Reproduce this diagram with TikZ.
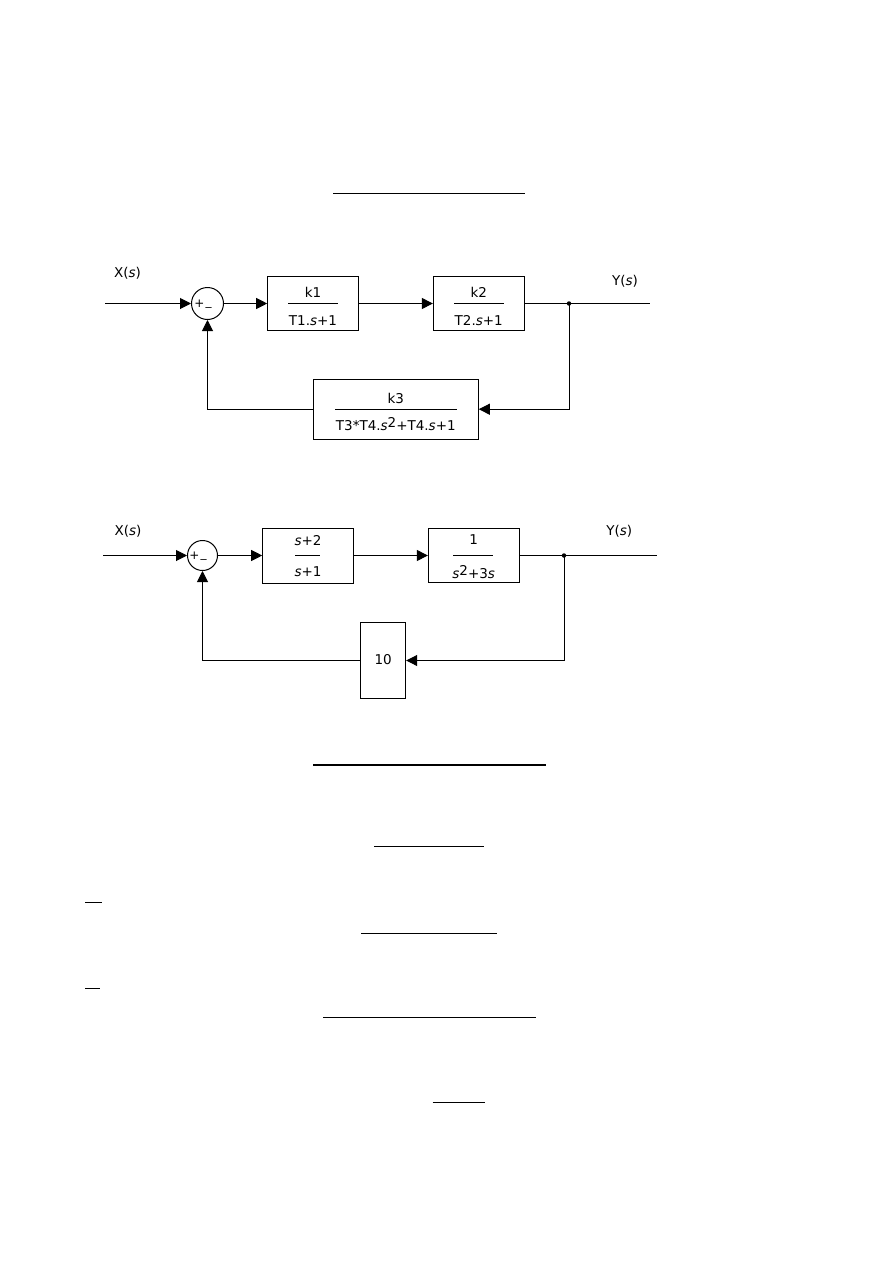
\documentclass[tikz,border=0pt]{standalone}
\usepackage{fontspec}
\setmainfont{DejaVu Sans}
\usetikzlibrary{arrows.meta}
\begin{document}
\begin{tikzpicture}[x=1pt,y=-1pt,
  wire/.style={line width=1pt},
  arr/.style={wire,-{Triangle[length=11pt,width=11pt]}},
  blk/.style={draw,line width=1pt,inner sep=0pt},
  sumc/.style={draw,circle,line width=1pt,inner sep=0pt},
  lbl/.style={inner sep=0pt,font=\fontsize{13.5}{14}\selectfont},
  sgn/.style={inner sep=0pt,font=\fontsize{12}{13}\selectfont},
  bar/.style={line width=1pt},
  uline/.style={line width=1.4pt},
  dot/.style={circle,fill,inner sep=0pt,minimum size=4.5pt}]
\useasboundingbox (0,0) rectangle (893,1263);

% ---------- underlines ----------
\draw[uline] (333,193.3) -- (525,193.3);
\draw[uline] (313.3,765) -- (546,765);
\draw[uline] (374.3,846.3) -- (484,846.3);
\draw[uline] (85,902.3) -- (102,902.3);
\draw[uline] (361,933.3) -- (496.7,933.3);
\draw[uline] (85,988.7) -- (100,988.7);
\draw[uline] (323.3,1017.7) -- (536,1017.7);
\draw[uline] (432.7,1102.7) -- (485.3,1102.7);

% ---------- diagram 1 ----------
\coordinate (in1) at (105,303.5);
\node[lbl] (x1) at (127.5,273) {X(\textit{s})};
\node[sumc,minimum size=32pt] (s1) at (207.5,303.5) {};
\node[sgn] (s1p) at (199.5,303.5) {+};
\node[sgn] (s1m) at (208.5,306.5) {\_};
\node[blk,minimum width=90.6pt,minimum height=54.7pt] (b1) at (313,303.5) {};
\node[lbl] (b1n) at (313,292) {k1};
\draw[bar] (288,303.5) -- (338,303.5);
\node[lbl] (b1d) at (313,321) {T1.\textit{s}+1};
\node[blk,minimum width=90.7pt,minimum height=54.3pt] (b2) at (478.7,303.5) {};
\node[lbl] (b2n) at (478.7,292) {k2};
\draw[bar] (454,303.5) -- (504,303.5);
\node[lbl] (b2d) at (478.7,321) {T2.\textit{s}+1};
\node[dot] (j1) at (569,303.5) {};
\coordinate (out1) at (650,303.5);
\node[lbl] (y1) at (625,281.5) {Y(\textit{s})};
\node[blk,minimum width=165pt,minimum height=60.3pt] (fb1) at (395.8,409.2) {};
\node[lbl] (fb1n) at (395.8,398) {k3};
\draw[bar] (335,409.2) -- (456.7,409.2);
\node[lbl] (fb1d) at (395.8,424) {T3*T4.\textit{s}\raisebox{3pt}{2}+T4.\textit{s}+1};

\draw[arr] (in1) -- (s1.west);
\draw[arr] (s1.east) -- (b1.west);
\draw[arr] (b1.east) -- (b2.west);
\draw[wire] (b2.east) -- (out1);
\draw[arr] (j1.center) |- (fb1.east);
\draw[arr] (fb1.west) -| (s1.south);

% ---------- diagram 2 ----------
\coordinate (in2) at (103.3,555.5);
\node[lbl] (x2) at (128,531.7) {X(\textit{s})};
\node[sumc,minimum size=30pt] (s2) at (202.5,555.5) {};
\node[sgn] (s2p) at (194.5,555.5) {+};
\node[sgn] (s2m) at (203.5,558.5) {\_};
\node[blk,minimum width=90.6pt,minimum height=55pt] (c1) at (308,555.5) {};
\node[lbl] (c1n) at (308,540.7) {\textit{s}+2};
\draw[bar] (295,555.5) -- (320,555.5);
\node[lbl] (c1d) at (308,571.7) {\textit{s}+1};
\node[blk,minimum width=90.7pt,minimum height=54pt] (c2) at (473.7,555.5) {};
\node[lbl] (c2n) at (473.7,540) {1};
\draw[bar] (453.3,555.5) -- (493.3,555.5);
\node[lbl] (c2d) at (473.7,571.7) {\textit{s}\raisebox{3pt}{2}+3\textit{s}};
\node[dot] (j2) at (564,555.5) {};
\coordinate (out2) at (656.7,555.5);
\node[lbl] (y2) at (619.3,531.7) {Y(\textit{s})};
\node[blk,minimum width=45pt,minimum height=75.6pt] (fb2) at (383.2,660.5) {};
\node[lbl] (fb2n) at (383.2,660) {10};

\draw[arr] (in2) -- (s2.west);
\draw[arr] (s2.east) -- (c1.west);
\draw[arr] (c1.east) -- (c2.west);
\draw[wire] (c2.east) -- (out2);
\draw[arr] (j2.center) |- (fb2.east);
\draw[arr] (fb2.west) -| (s2.south);
\end{tikzpicture}
\end{document}
